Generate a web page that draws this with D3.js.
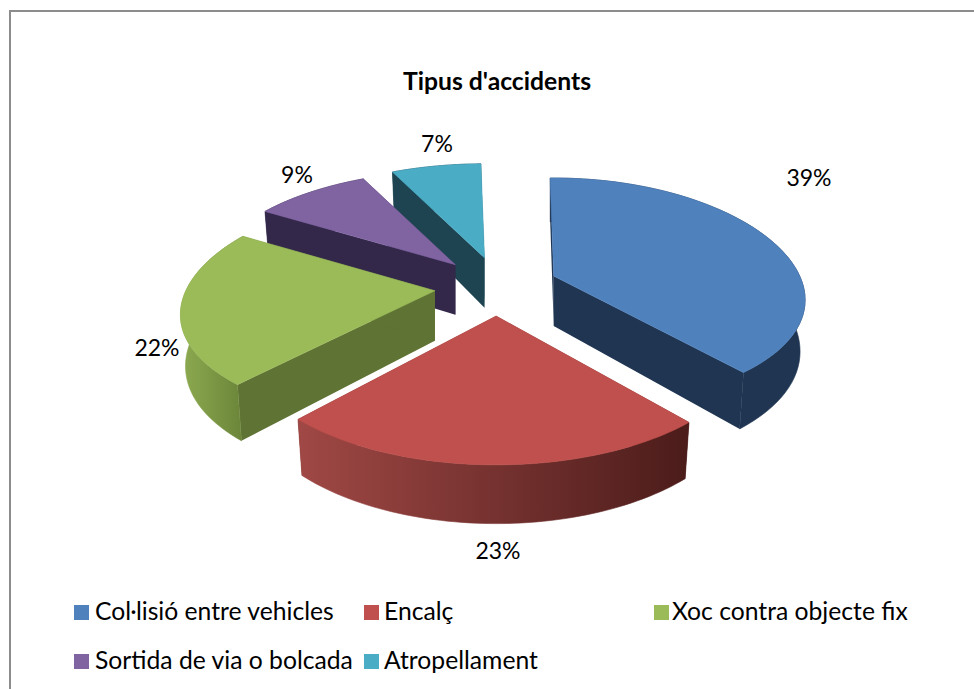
<!DOCTYPE html>
<html><head><meta charset="utf-8">
<script src="https://cdn.jsdelivr.net/npm/d3@7"></script>
<style>html,body{margin:0;padding:0;background:#fff}svg{display:block}text{font-family:Lato,"Open Sans",sans-serif;fill:#000}</style>
</head><body><div id="c"></div>
<script>
const title = "Tipus d'accidents";
const categories = ["Col·lisió entre vehicles","Encalç","Xoc contra objecte fix","Sortida de via o bolcada","Atropellament"];
const values = [39,23,22,9,7];
const topColors = ["#4f81bd","#c0504d","#9bbb59","#8064a2","#4bacc6"];
const radialColors = ["#1f3552","#4f1f1d","#5f7334","#33284a","#1d4450"];
const wallStops = [["#1f3552","#1f3552"],["#a04845","#4b1c1a"],["#8dab51","#6b8539"],["#33284a","#33284a"],["#1d4450","#1d4450"]];
const drawOrder = [4,3,0,2,1];

const W=974,H=689;
const svg=d3.select("#c").append("svg").attr("width",W).attr("height",H);
const defs=svg.append("defs");

// frame
svg.append("path").attr("d",`M${W+2},11H10V${H+2}`).attr("fill","none").attr("stroke","#8c8c8c").attr("stroke-width",2);

// perspective model of the tilted pie
const P={cx:496,cy:286.5,R:247,explode:0.25,depth:50,pX:0.206};
const sliceP=[0.15,0.206,0.15,0.206,0.206];
const sliceBack=[98,98,98,94,94];
const sliceR=[246,250,249,247,247];
const sliceShift=[0,1,0,1,3];
const rot=-1*Math.PI/180;
const arcs=d3.pie().sort(null).startAngle(rot).endAngle(rot+2*Math.PI)(values);
const line=d3.line().curve(d3.curveLinear);

drawOrder.forEach(i=>{
  const a=arcs[i], mid=(a.startAngle+a.endAngle)/2;
  const p=sliceP[i], kR=sliceBack[i]*(1+p), R=sliceR[i];
  const ax=P.cx+sliceShift[i]+P.R*P.explode*Math.sin(mid), ay=P.cy-118*P.explode*Math.cos(mid);
  const pt=(t,r,z)=>{
    const x=r*Math.sin(t), y=-r*Math.cos(t), s=1/(1-p*y), sx=1/(1-P.pX*y);
    const px=R*x*sx, py=kR*y*s;
    return z? [ax+px*0.98, ay+py+P.depth*Math.pow(sx,0.7)] : [ax+px, ay+py];
  };
  const ts=d3.range(0,61).map(j=>a.startAngle+(a.endAngle-a.startAngle)*j/60);
  const g=svg.append("g");
  [a.startAngle,a.endAngle].forEach(t=>{
    g.append("path").attr("d",line([pt(t,0,0),pt(t,1,0),pt(t,1,1),pt(t,0,1)])+"Z")
      .attr("fill",radialColors[i]);
  });
  const xs=ts.map(t=>pt(t,1,0)[0]);
  const gid="w"+i;
  const lg=defs.append("linearGradient").attr("id",gid).attr("gradientUnits","userSpaceOnUse")
    .attr("x1",d3.min(xs)).attr("x2",d3.max(xs)).attr("y1",0).attr("y2",0);
  lg.append("stop").attr("offset",0).attr("stop-color",wallStops[i][0]);
  lg.append("stop").attr("offset",1).attr("stop-color",wallStops[i][1]);
  const wall=ts.map(t=>pt(t,1,0)).concat(ts.slice().reverse().map(t=>pt(t,1,1)));
  g.append("path").attr("d",line(wall)+"Z").attr("fill",`url(#${gid})`).attr("stroke",`url(#${gid})`).attr("stroke-width",0.6);
  const face=[pt(a.startAngle,0,0)].concat(ts.map(t=>pt(t,1,0)));
  g.append("path").attr("d",line(face)+"Z").attr("fill",topColors[i]).attr("stroke",topColors[i]).attr("stroke-width",0.6);
});

// title
svg.append("text").attr("x",497).attr("y",90).attr("text-anchor","middle")
  .attr("font-size",24.7).attr("font-weight",700).text(title);

// data labels
const labelAt=[[809,178],[498,551],[157,348],[297,175],[437,144]];
values.forEach((v,i)=>{
  svg.append("text").attr("x",labelAt[i][0]).attr("y",labelAt[i][1]+8).attr("text-anchor","middle")
    .attr("font-size",23).text(v+"%");
});

// legend
const legendAt=[[74,620],[364,620],[654,620],[74,669],[364,669]];
categories.forEach((c,i)=>{
  const [x,y]=legendAt[i];
  svg.append("rect").attr("x",x).attr("y",y-15).attr("width",15).attr("height",15).attr("fill",topColors[i]);
  svg.append("text").attr("x",x+(i===2?18:i===0||i===3?21:20)).attr("y",y).attr("font-size",24.7).text(c);
});
</script></body></html>
